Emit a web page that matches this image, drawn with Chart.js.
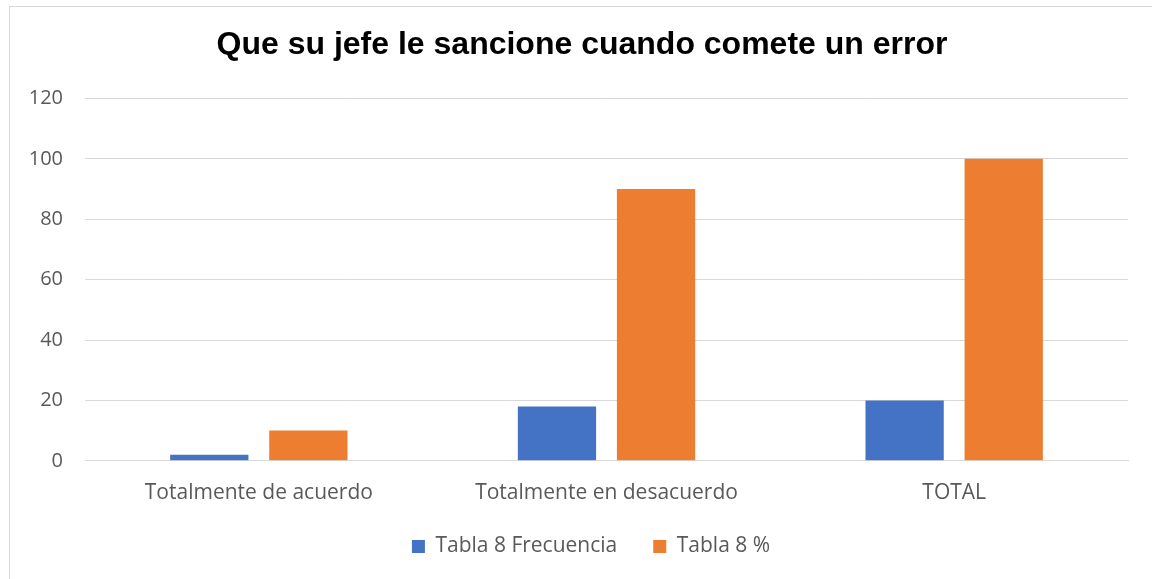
<!DOCTYPE html>
<html>
<head>
<meta charset="utf-8">
<script src="https://cdn.jsdelivr.net/npm/chart.js@4/dist/chart.umd.min.js"></script>
<style>
  html, body { margin: 0; padding: 0; background: #fff; overflow: hidden; }
  #wrap { position: relative; width: 1152px; height: 579px; }
  #frame { position: absolute; left: 9px; top: 6px; width: 1200px; height: 700px;
           border: 1px solid #d9d9d9; pointer-events: none; }
</style>
</head>
<body>
<div id="wrap">
  <canvas id="chart" width="1152" height="579"></canvas>
  <div id="frame"></div>
</div>
<script>
const categories = ['Totalmente de acuerdo', 'Totalmente en desacuerdo', 'TOTAL'];
const frecuencia = [2, 18, 20];
const porcentaje = [10, 90, 100];
const yTicks = [0, 20, 40, 60, 80, 100, 120];

const titulo = 'Que su jefe le sancione cuando comete un error';
const font = "'Open Sans', 'Liberation Sans', sans-serif";

// shift a layout box (title / legend) sideways when drawn; `lift` takes that much
// off the box height and draws its content that much higher
function nudge(box, dx, lift) {
  if (!box) return;
  if (lift && box.fit) {
    const fit = box.fit.bind(box);
    box.fit = function () { fit(); this.height -= lift; };
  }
  const draw = box.draw.bind(box);
  box.draw = function (area) {
    const ctx = this.ctx;
    ctx.save();
    ctx.translate(dx, 0);
    this.top -= lift;
    draw(area);
    this.top += lift;
    ctx.restore();
  };
}

const chart = new Chart(document.getElementById('chart'), {
  type: 'bar',
  data: {
    labels: categories,
    datasets: [
      {
        label: 'Tabla 8 Frecuencia',
        data: frecuencia,
        backgroundColor: '#4472C4',
        barPercentage: 0.79,
        categoryPercentage: 0.57
      },
      {
        label: 'Tabla 8 %',
        data: porcentaje,
        backgroundColor: '#ED7D31',
        barPercentage: 0.79,
        categoryPercentage: 0.57
      }
    ]
  },
  options: {
    responsive: false,
    animation: false,
    layout: { padding: { left: 26, right: 24, top: 0, bottom: 12 } },
    plugins: {
      title: {
        display: true,
        text: titulo,
        color: '#000',
        font: { family: "'Liberation Sans', Arial, sans-serif", size: 32, weight: 'bold' },
        padding: { top: 26, bottom: 34 }
      },
      legend: {
        position: 'bottom',
        labels: {
          boxWidth: 13,
          boxHeight: 13,
          padding: 36,
          color: '#595959',
          font: { family: font, size: 21 }
        }
      },
      tooltip: { enabled: false }
    },
    scales: {
      x: {
        grid: { display: false },
        border: { color: '#d9d9d9' },
        ticks: { color: '#595959', font: { family: font, size: 21 }, padding: 12 }
      },
      y: {
        min: 0,
        max: 120,
        afterBuildTicks: axis => { axis.ticks = yTicks.map(v => ({ value: v })); },
        afterFit: axis => { axis.width = 59; },
        grid: { color: '#d9d9d9', lineWidth: 1, drawTicks: false },
        border: { display: false },
        ticks: { color: '#595959', font: { family: font, size: 20 }, padding: 22 }
      }
    }
  }
});

// the subtitle plugin also keeps a (hidden) box at the top, so pick the title by its text
const titleBox = chart.boxes.find(b => b !== chart.legend && b.options && b.options.text === titulo);
nudge(titleBox, 5, 0);
nudge(chart.legend, 14, 18);
chart.update();
</script>
</body>
</html>
